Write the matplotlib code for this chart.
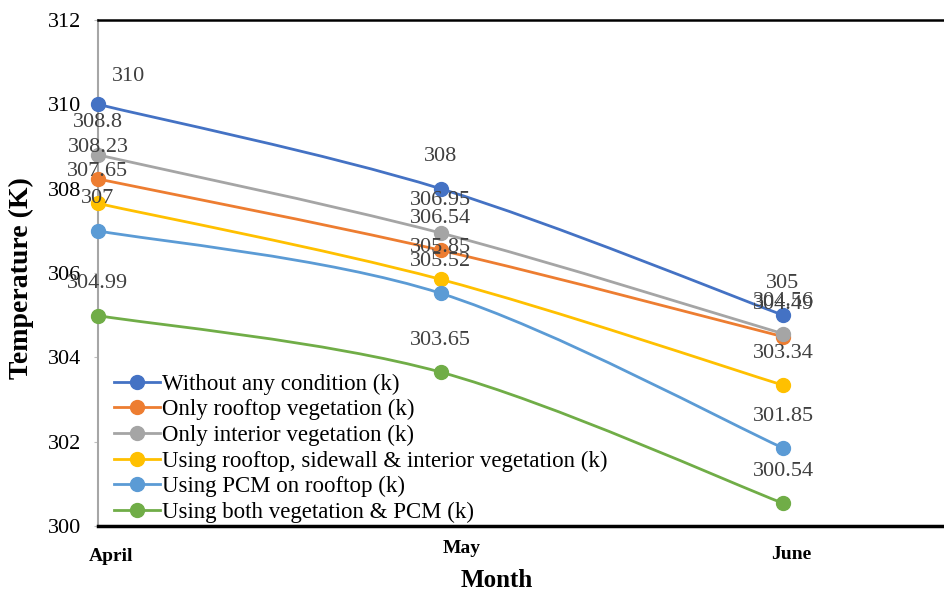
import matplotlib
matplotlib.use("Agg")
import matplotlib.pyplot as plt
import matplotlib.transforms as mtransforms
from matplotlib.path import Path
from matplotlib.patches import PathPatch
from matplotlib.lines import Line2D

plt.rcParams['font.family'] = ['Liberation Serif', 'DejaVu Serif']

months = ["April", "May", "June"]
series_names = [
    "Without any condition (k)",
    "Only rooftop vegetation (k)",
    "Only interior vegetation (k)",
    "Using rooftop, sidewall & interior vegetation (k)",
    "Using PCM on rooftop (k)",
    "Using both vegetation & PCM (k)",
]
without_cond = [310, 308, 305]
rooftop_veg = [308.23, 306.54, 304.49]
interior_veg = [308.8, 306.95, 304.56]
all_veg = [307.65, 305.85, 303.34]
pcm_rooftop = [307, 305.52, 301.85]
veg_and_pcm = [304.99, 303.65, 300.54]

series = [without_cond, rooftop_veg, interior_veg, all_veg, pcm_rooftop, veg_and_pcm]
colors = ["#4472C4", "#ED7D31", "#A5A5A5", "#FFC000", "#5B9BD5", "#70AD47"]


def smooth_path(xs, ys):
    # Bezier smoothing through the points, like a spreadsheet "smoothed line"
    pts = list(zip(xs, ys))
    verts = [pts[0]]
    codes = [Path.MOVETO]
    n = len(pts)
    for i in range(n - 1):
        p0 = pts[max(i - 1, 0)]
        p1 = pts[i]
        p2 = pts[i + 1]
        p3 = pts[min(i + 2, n - 1)]
        c1 = (p1[0] + (p2[0] - p0[0]) / 6, p1[1] + (p2[1] - p0[1]) / 6)
        c2 = (p2[0] - (p3[0] - p1[0]) / 6, p2[1] - (p3[1] - p1[1]) / 6)
        verts += [c1, c2, p2]
        codes += [Path.CURVE4] * 3
    return Path(verts, codes)


fig = plt.figure(figsize=(9.44, 5.94), dpi=100)
ax = fig.add_axes([98 / 944, 68 / 594, 846 / 944, 506 / 594])

x = list(range(len(months)))
handles = []
for vals, c, name in zip(series, colors, series_names):
    ax.add_patch(PathPatch(smooth_path(x, vals), facecolor="none",
                           edgecolor=c, lw=2.0, zorder=2))
    ax.plot(x, vals, "o", color=c, ms=10, zorder=3, clip_on=False)
    handles.append(Line2D([], [], color=c, lw=2.0, marker="o", ms=10))

# value labels above each point
for vals in series:
    for xi, v in zip(x, vals):
        off = (0, 23)
        if v == 310:
            off = (22, 20)
        ax.annotate(f"{v:g}", (xi, v), xytext=off, textcoords="offset points",
                    ha="center", va="center", fontsize=16, color="#404040",
                    zorder=5)

ax.set_xlim(0, 2.47)
ax.set_ylim(300, 312)
ax.set_yticks(range(300, 313, 2))
ax.tick_params(axis="y", length=3, color="#BFBFBF", labelsize=16, pad=9)
ax.set_xticks(x)
ax.set_xticklabels(months, fontsize=14, fontweight="bold")
ax.tick_params(axis="x", length=0, pad=10)

# nudge month labels the way they sit in the layout
nudges = [(13, -8), (21, 0), (8, -6)]
for lab, (dx, dy) in zip(ax.get_xticklabels(), nudges):
    lab.set_transform(lab.get_transform() +
                      mtransforms.ScaledTranslation(dx / 100, dy / 100, fig.dpi_scale_trans))

ax.spines["right"].set_visible(False)
ax.spines["top"].set_color("black")
ax.spines["top"].set_linewidth(1.8)
ax.spines["bottom"].set_color("black")
ax.spines["bottom"].set_linewidth(2.5)
ax.spines["left"].set_color("#A6A6A6")
ax.spines["left"].set_linewidth(1.5)

ax.set_xlabel("Month", fontsize=18, fontweight="bold", labelpad=0)
ax.xaxis.set_label_coords((497 - 98) / 846, -0.085)
ax.set_ylabel("Temperature (K)", fontsize=20, fontweight="bold")
ax.yaxis.set_label_coords((34 - 98) / 846, 0.49)

ax.legend(handles, series_names, loc="lower left", bbox_to_anchor=(0.0, -0.025),
          frameon=False, fontsize=16.5, handlelength=2.0, handletextpad=0.1,
          labelspacing=0.19, borderaxespad=0.3)

fig.savefig("out.png", dpi=100)
